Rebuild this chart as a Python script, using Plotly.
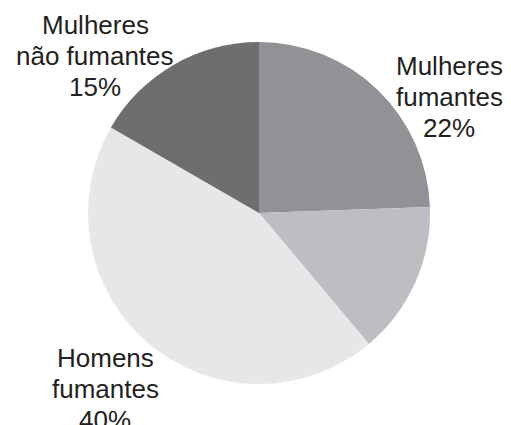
import plotly.graph_objects as go

categories = ["Mulheres fumantes", "Outros", "Homens fumantes", "Mulheres não fumantes"]
values = [22, 13, 40, 15]
label_lines = [["Mulheres", "fumantes", "22%"], [], ["Homens", "fumantes", "40%"], ["Mulheres", "não fumantes", "15%"]]
colors = ["#919295", "#bdbec1", "#e6e7e9", "#6d6e70"]

W, H = 511, 425
OFF = 8  # page body margin
cx, cy, r = 259 - OFF, 213 - OFF, 171
# label centre x and first-line baseline (pixels, page coords)
label_pos = [(449, 75), None, (105, 367), (95, 34)]
PITCH = 31
FS = 26

fig = go.Figure(go.Pie(
    labels=categories,
    values=values,
    sort=False,
    direction="clockwise",
    rotation=0,
    marker=dict(colors=colors, line=dict(width=0)),
    textinfo="none",
    hoverinfo="label+value",
    showlegend=False,
    domain=dict(x=[(cx - r) / W, (cx + r) / W], y=[(H - cy - r) / H, (H - cy + r) / H]),
))

for lines, pos in zip(label_lines, label_pos):
    if not lines or pos is None:
        continue
    for i, line in enumerate(lines):
        px = pos[0] - OFF
        py = pos[1] - OFF + i * PITCH - 9
        fig.add_annotation(
            x=px / W, y=1 - py / H, xref="paper", yref="paper",
            text=line, showarrow=False, align="center",
            xanchor="center", yanchor="middle",
            font=dict(family="Liberation Sans, Arial, sans-serif", size=FS, color="#231f20"),
        )

fig.update_layout(
    width=W, height=H,
    margin=dict(l=0, r=0, t=0, b=0),
    paper_bgcolor="white", plot_bgcolor="white",
)

fig.write_html("out.html")
